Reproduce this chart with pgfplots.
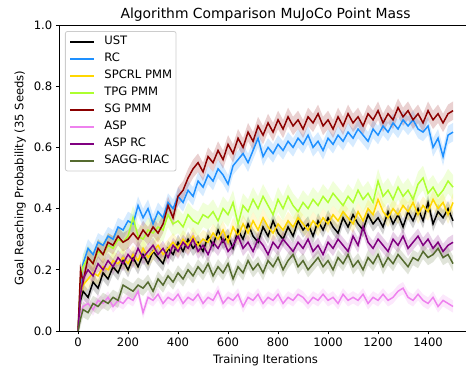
\documentclass[border=0pt]{standalone}
\usepackage{fontspec}
\setmainfont{DejaVu Sans}
\usepackage{pgfplots}
\usepackage{pgfplotstable}
\pgfplotsset{compat=1.18}
\usepgfplotslibrary{fillbetween}
\definecolor{dodgerblue}{RGB}{30,144,255}
\definecolor{mgold}{RGB}{255,215,0}
\definecolor{greenyellow}{RGB}{173,255,47}
\definecolor{mdarkred}{RGB}{139,0,0}
\definecolor{mviolet}{RGB}{238,130,238}
\definecolor{mpurple}{RGB}{128,0,128}
\definecolor{olivegreen}{RGB}{85,107,47}
\definecolor{legframe}{RGB}{204,204,204}

\pgfplotstableread{
x ust rc spc tpg sg asp aspr sagg
0 0 0 0 0 0 0 0 0
10 .10 .15 .12 .17 .20 .05 .12 .04
20 .13 .22 .15 .21 .16 .08 .17 .07
40 .11 .27 .17 .24 .24 .09 .20 .06
60 .16 .25 .19 .22 .22 .07 .18 .09
80 .14 .29 .18 .26 .27 .10 .22 .08
100 .19 .28 .21 .25 .25 .09 .20 .10
120 .17 .31 .20 .28 .29 .11 .23 .09
140 .21 .30 .23 .27 .28 .08 .21 .11
160 .19 .34 .22 .30 .31 .10 .24 .10
180 .23 .33 .24 .29 .29 .09 .22 .15
200 .20 .36 .22 .31 .30 .11 .25 .14
220 .24 .35 .25 .37 .32 .10 .23 .13
240 .21 .41 .23 .31 .30 .13 .27 .15
260 .25 .37 .27 .30 .33 .06 .24 .14
280 .22 .40 .24 .33 .31 .11 .26 .16
300 .26 .35 .26 .32 .34 .10 .28 .13
320 .24 .39 .28 .34 .32 .12 .25 .17
340 .22 .37 .25 .33 .35 .09 .27 .15
360 .27 .42 .27 .38 .41 .11 .24 .18
380 .25 .40 .29 .35 .37 .10 .28 .16
400 .29 .44 .27 .36 .44 .12 .26 .19
420 .26 .42 .30 .34 .46 .09 .29 .17
440 .30 .46 .28 .38 .50 .11 .27 .20
460 .27 .44 .31 .36 .53 .10 .30 .18
480 .29 .49 .28 .35 .55 .12 .26 .21
500 .26 .47 .30 .38 .52 .09 .28 .19
520 .31 .51 .29 .37 .57 .11 .25 .22
540 .28 .49 .32 .39 .55 .10 .29 .18
560 .33 .53 .30 .36 .59 .13 .27 .21
580 .29 .51 .33 .40 .56 .09 .30 .19
600 .31 .48 .29 .38 .61 .11 .26 .22
620 .27 .54 .34 .42 .58 .10 .28 .17
640 .33 .56 .31 .35 .63 .12 .31 .21
660 .30 .58 .35 .41 .60 .08 .27 .19
680 .35 .55 .32 .39 .65 .11 .29 .23
700 .31 .59 .36 .43 .62 .10 .26 .20
720 .29 .63 .33 .40 .67 .12 .30 .22
740 .34 .57 .37 .44 .64 .09 .28 .19
760 .31 .60 .34 .41 .68 .11 .25 .23
780 .36 .58 .32 .38 .65 .10 .29 .21
800 .32 .61 .35 .43 .69 .12 .27 .24
820 .30 .59 .33 .40 .66 .09 .30 .20
840 .34 .62 .36 .44 .70 .11 .28 .23
860 .31 .60 .34 .41 .67 .10 .26 .25
880 .36 .63 .37 .39 .69 .12 .29 .21
900 .33 .61 .35 .42 .66 .11 .27 .23
920 .35 .64 .33 .40 .70 .09 .30 .20
940 .31 .60 .36 .43 .68 .11 .26 .22
960 .36 .62 .34 .41 .71 .10 .28 .24
980 .33 .59 .37 .44 .67 .12 .25 .21
1000 .37 .63 .35 .42 .69 .10 .29 .23
1020 .34 .61 .38 .45 .66 .11 .27 .20
1040 .32 .64 .36 .43 .70 .09 .30 .24
1060 .37 .62 .39 .41 .67 .12 .28 .22
1080 .34 .65 .37 .44 .71 .10 .26 .25
1100 .38 .63 .35 .42 .68 .11 .31 .21
1120 .35 .66 .39 .46 .70 .10 .28 .23
1140 .33 .64 .36 .43 .67 .12 .34 .20
1160 .38 .62 .40 .45 .71 .09 .29 .24
1180 .35 .66 .38 .42 .69 .11 .27 .22
1200 .37 .64 .43 .49 .72 .10 .30 .25
1220 .34 .67 .39 .44 .68 .12 .28 .21
1240 .39 .65 .37 .46 .71 .10 .26 .24
1260 .35 .68 .40 .43 .69 .11 .30 .22
1280 .38 .66 .38 .47 .73 .13 .28 .25
1300 .34 .69 .41 .44 .70 .14 .31 .23
1320 .39 .67 .39 .46 .72 .11 .27 .21
1340 .36 .69 .42 .43 .69 .10 .29 .24
1360 .40 .66 .38 .48 .71 .12 .31 .23
1380 .36 .65 .41 .50 .68 .10 .28 .26
1400 .42 .67 .39 .45 .72 .09 .30 .24
1420 .35 .60 .43 .47 .69 .11 .27 .25
1440 .39 .63 .40 .44 .71 .08 .29 .27
1460 .37 .57 .42 .46 .68 .10 .26 .24
1480 .40 .64 .38 .49 .71 .09 .28 .25
1500 .36 .65 .42 .47 .72 .08 .29 .22
}\data

\newcommand{\band}[3]{%
  \addplot[draw=none, name path=#1U, forget plot] table[x=x, y expr=\thisrow{#1}+#3] {\data};
  \addplot[draw=none, name path=#1L, forget plot] table[x=x, y expr=\thisrow{#1}-#3] {\data};
  \addplot[fill=#2, fill opacity=0.18, draw=none, forget plot] fill between[of=#1U and #1L];
}

\begin{document}
\begin{tikzpicture}
\begin{axis}[
  at={(0pt,0pt)}, anchor=south west,
  scale only axis, width=412.5pt, height=306pt,
  xmin=-75, xmax=1575, ymin=0, ymax=1,
  xtick={0,200,...,1400}, ytick={0,0.2,...,1.0},
  xtick pos=bottom, ytick pos=left,
  tick align=outside, major tick length=3.5pt,
  every tick/.style={black, line width=0.8pt},
  axis line style={line width=0.8pt},
  /pgf/number format/assume math mode=true,
  yticklabel style={/pgf/number format/fixed, /pgf/number format/fixed zerofill, /pgf/number format/precision=1},
  xticklabel style={/pgf/number format/fixed, /pgf/number format/1000 sep={}},
  ticklabel style={font=\fontsize{11.6}{13}\selectfont},
  every axis title shift=0pt,
  title={Algorithm Comparison MuJoCo Point Mass},
  title style={at={(axis description cs:0.5,1)}, anchor=base, yshift=6pt, font=\fontsize{13.9}{16}\selectfont},
  xlabel={Training Iterations},
  xlabel style={at={(axis description cs:0.5,0)}, anchor=center, yshift=-29pt, font=\fontsize{11.6}{13}\selectfont},
  ylabel={Goal Reaching Probability (35 Seeds)},
  ylabel style={at={(axis description cs:-0.095,0.5)}, anchor=center, font=\fontsize{11.6}{13}\selectfont},
  legend style={at={(axis description cs:0.0138,0.980)}, anchor=north west, draw=legframe, line width=0.8pt, rounded corners=2pt, fill=white, fill opacity=0.8, text opacity=1, font=\fontsize{11.6}{13}\selectfont, row sep=6.2pt, column sep=9pt, inner xsep=4pt, inner ysep=4.8pt,
    nodes={inner sep=0pt, text height=8.5pt, text depth=2.3pt}},
  legend cell align=left,
  legend image code/.code={\draw[#1, line width=2pt, opacity=1] (0pt,0pt) -- (24pt,0pt);},
  every axis plot/.append style={line width=1.5pt},
]
\band{ust}{black}{0.025}
\addplot[black, forget plot] table[x=x, y=ust] {\data};
\band{rc}{dodgerblue}{0.03}
\addplot[dodgerblue, forget plot] table[x=x, y=rc] {\data};
\band{spc}{mgold}{0.03}
\addplot[mgold, forget plot] table[x=x, y=spc] {\data};
\band{tpg}{greenyellow}{0.04}
\addplot[greenyellow, forget plot] table[x=x, y=tpg] {\data};
\band{sg}{mdarkred}{0.03}
\addplot[mdarkred, forget plot] table[x=x, y=sg] {\data};
\band{asp}{mviolet}{0.02}
\addplot[mviolet, forget plot] table[x=x, y=asp] {\data};
\band{aspr}{mpurple}{0.025}
\addplot[mpurple, forget plot] table[x=x, y=aspr] {\data};
\band{sagg}{olivegreen}{0.025}
\addplot[olivegreen, forget plot] table[x=x, y=sagg] {\data};
\addlegendimage{black}\addlegendentry{UST}
\addlegendimage{dodgerblue}\addlegendentry{RC}
\addlegendimage{mgold}\addlegendentry{SPCRL PMM}
\addlegendimage{greenyellow}\addlegendentry{TPG PMM}
\addlegendimage{mdarkred}\addlegendentry{SG PMM}
\addlegendimage{mviolet}\addlegendentry{ASP}
\addlegendimage{mpurple}\addlegendentry{ASP RC}
\addlegendimage{olivegreen}\addlegendentry{SAGG-RIAC}
\end{axis}
\pgfresetboundingbox
\useasboundingbox (-59.3pt,-40pt) rectangle (406.7pt,331pt);
\end{tikzpicture}
\end{document}
